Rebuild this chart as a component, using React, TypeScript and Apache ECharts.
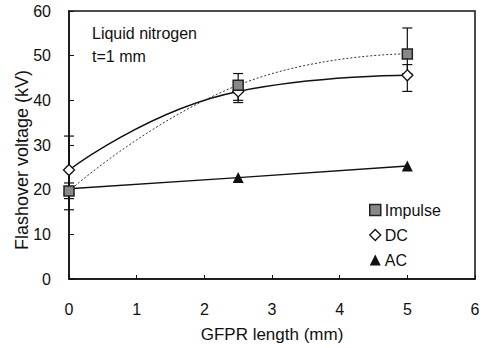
import React, { useEffect, useRef } from "react";
import * as echarts from "echarts";

const xValues = [0, 2.5, 5];
const impulse = [19.7, 43.4, 50.4];
const dc = [24.4, 42.0, 45.6];
const ac = [20.2, 22.7, 25.3];
// [x, low, high]
const impulseErr = [
  [0, 18, 21.5],
  [2.5, 40, 46],
  [5, 46, 56.2],
];
const dcErr = [
  [0, 15.5, 32],
  [2.5, 39.5, 44],
  [5, 42, 48],
];
const xTicks = [0, 1, 2, 3, 4, 5, 6];
const yTicks = [0, 10, 20, 30, 40, 50, 60];

const FONT = "Liberation Sans";

function errSeries(name: string, data: number[][]) {
  return {
    type: "custom",
    name: name + "-err",
    data,
    z: 1,
    renderItem: (_p: any, api: any) => {
      const x = api.value(0);
      const lo = api.coord([x, api.value(1)]);
      const hi = api.coord([x, api.value(2)]);
      const w = 5;
      const st = { stroke: "#111", lineWidth: 1.2 };
      return {
        type: "group",
        children: [
          { type: "line", shape: { x1: lo[0], y1: lo[1], x2: hi[0], y2: hi[1] }, style: st },
          { type: "line", shape: { x1: lo[0] - w, y1: lo[1], x2: lo[0] + w, y2: lo[1] }, style: st },
          { type: "line", shape: { x1: hi[0] - w, y1: hi[1], x2: hi[0] + w, y2: hi[1] }, style: st },
        ],
      };
    },
  };
}

export default function App() {
  const ref = useRef<HTMLDivElement>(null);
  useEffect(() => {
    const chart = echarts.init(ref.current!, null, { renderer: "svg" });
    const pair = (ys: number[]) => xValues.map((x, i) => [x, ys[i]]);
    chart.setOption({
      animation: false,
      backgroundColor: "#fff",
      textStyle: { fontFamily: FONT },
      grid: {
        left: 69,
        right: 12,
        top: 11,
        bottom: 66,
        show: true,
        borderColor: "#111",
        borderWidth: 1.5,
      },
      xAxis: {
        type: "value",
        min: xTicks[0],
        max: xTicks[xTicks.length - 1],
        interval: 1,
        name: "GFPR length (mm)",
        nameLocation: "middle",
        nameGap: 47,
        nameTextStyle: { fontSize: 17, color: "#111", fontFamily: FONT },
        axisLine: { lineStyle: { color: "#111", width: 1.5 } },
        axisTick: { inside: true, length: 4, lineStyle: { color: "#111" } },
        axisLabel: { fontSize: 16, color: "#111", margin: 22, fontFamily: FONT },
        splitLine: { show: false },
      },
      yAxis: {
        type: "value",
        min: yTicks[0],
        max: yTicks[yTicks.length - 1],
        interval: 10,
        axisLine: { lineStyle: { color: "#111", width: 1.5 } },
        axisTick: { inside: true, length: 5, lineStyle: { color: "#111" } },
        axisLabel: { fontSize: 16, color: "#111", margin: 18, fontFamily: FONT },
        splitLine: { show: false },
      },
      legend: {
        orient: "vertical",
        left: 364,
        top: 197,
        itemGap: 9,
        itemWidth: 11,
        itemHeight: 11,
        textStyle: { fontSize: 16, color: "#111", fontFamily: FONT, padding: [0, 0, 0, -1] },
        data: [
          { name: "Impulse", icon: "rect", itemStyle: { color: "#888", borderColor: "#222", borderWidth: 1.5 } },
          { name: "DC", icon: "diamond", itemStyle: { color: "#fff", borderColor: "#111", borderWidth: 1.3 } },
          { name: "AC", icon: "triangle", itemStyle: { color: "#111", borderWidth: 0 } },
        ],
      },
      graphic: [
        { type: "text", left: 92, top: 25, style: { text: "Liquid nitrogen", fontSize: 16, fill: "#111", fontFamily: FONT } },
        { type: "text", left: 92, top: 48, style: { text: "t=1 mm", fontSize: 16, fill: "#111", fontFamily: FONT } },
        {
          type: "text",
          x: 22,
          y: 160,
          rotation: Math.PI / 2,
          style: {
            text: "Flashover voltage (kV)",
            fontSize: 18,
            fill: "#111",
            fontFamily: FONT,
            align: "center",
            verticalAlign: "middle",
          },
        },
      ],
      series: [
        errSeries("Impulse", impulseErr),
        errSeries("DC", dcErr),
        {
          name: "Impulse",
          type: "line",
          data: pair(impulse),
          smooth: 0.5,
          symbol: "rect",
          symbolSize: 10,
          z: 3,
          lineStyle: { color: "#333", width: 1, type: [2, 2] },
          itemStyle: { color: "#888", borderColor: "#222", borderWidth: 1.5 },
        },
        {
          name: "DC",
          type: "line",
          data: pair(dc),
          smooth: 0.5,
          symbol: "diamond",
          symbolSize: 11,
          z: 2,
          lineStyle: { color: "#111", width: 1.5 },
          itemStyle: { color: "#fff", borderColor: "#111", borderWidth: 1.3 },
        },
        {
          name: "AC",
          type: "line",
          data: pair(ac),
          symbol: "triangle",
          symbolSize: 11,
          z: 2,
          lineStyle: { color: "#111", width: 1.3 },
          itemStyle: { color: "#111" },
        },
      ],
    });
    return () => chart.dispose();
  }, []);
  return (
    <div
      ref={ref}
      style={{ position: "fixed", left: 0, top: 0, width: 487, height: 348 }}
    />
  );
}
